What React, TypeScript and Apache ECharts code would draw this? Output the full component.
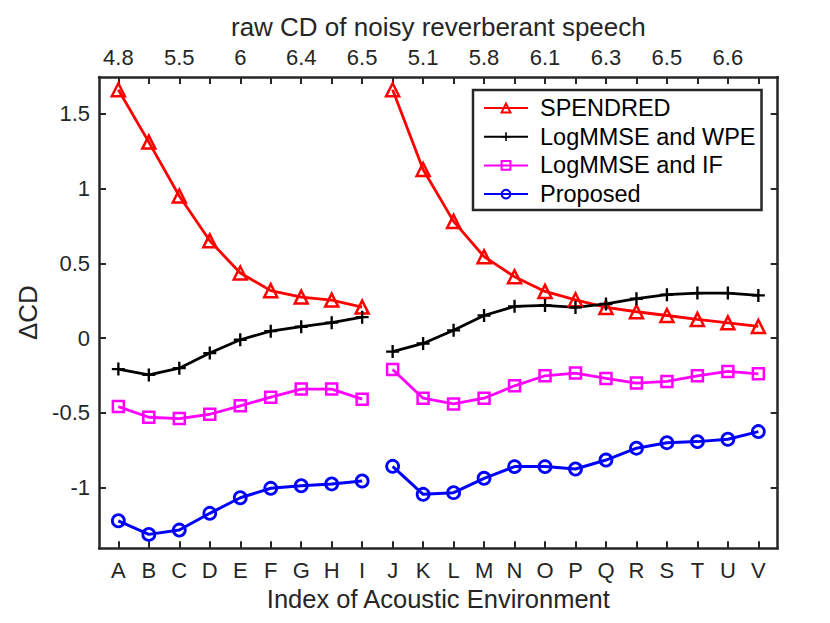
import React, { useEffect, useRef } from "react";
import * as echarts from "echarts";

const categories = ["A","B","C","D","E","F","G","H","I","J","K","L","M","N","O","P","Q","R","S","T","U","V"];
const breakAfter = 9; // line break between I and J
const topTickLabels = ["4.8","5.5","6","6.4","6.5","5.1","5.8","6.1","6.3","6.5","6.6"];
const topTickCategories = ["A","C","E","G","I","K","M","O","Q","S","U"];
const yTicks = [-1, -0.5, 0, 0.5, 1, 1.5];

const spendred = [1.66,1.31,0.95,0.65,0.435,0.317,0.274,0.254,0.207, 1.66,1.127,0.78,0.544,0.41,0.312,0.256,0.205,0.176,0.151,0.125,0.102,0.078];
const logmmseWpe = [-0.207,-0.246,-0.201,-0.1,-0.011,0.046,0.076,0.103,0.14, -0.09,-0.036,0.052,0.151,0.212,0.218,0.205,0.228,0.263,0.29,0.301,0.301,0.285];
const logmmseIf = [-0.458,-0.529,-0.538,-0.509,-0.453,-0.395,-0.341,-0.341,-0.408, -0.21,-0.402,-0.44,-0.402,-0.319,-0.252,-0.234,-0.27,-0.301,-0.29,-0.252,-0.223,-0.239];
const proposed = [-1.221,-1.312,-1.283,-1.171,-1.067,-1.004,-0.987,-0.975,-0.955, -0.857,-1.044,-1.033,-0.937,-0.859,-0.859,-0.875,-0.815,-0.736,-0.699,-0.692,-0.676,-0.625];

const TXT = "#262626";
const FONT = "'Liberation Sans', Arial, Helvetica, sans-serif";

function toData(vals: number[]) {
  const out: any[] = [];
  vals.forEach((v, i) => {
    out.push([i + 1, v]);
    if (i + 1 === breakAfter) out.push([breakAfter + 0.5, "-"]);
  });
  return out;
}

const plusPath = "path://M4.1,0h1.8v4.1h4.1v1.8h-4.1v4.1h-1.8v-4.1h-4.1v-1.8h4.1z";

export default function App() {
  const ref = useRef<HTMLDivElement>(null);
  useEffect(() => {
    if (!ref.current) return;
    const chart = echarts.init(ref.current, undefined, { renderer: "svg" });
    const xMin = 0.365, xMax = 22.635;
    const catTicks = categories.map((_, i) => i + 1);
    const topPos = topTickCategories.map((c) => categories.indexOf(c) + 1);
    const axisLineStyle = { color: TXT, width: 2.5 };
    const tickStyle = { color: TXT, width: 2 };
    const mk = (name: string, vals: number[], color: string, symbol: string, size: number, lw: number, bw: number, fillSolid = false) => ({
      name,
      type: "line",
      data: toData(vals),
      symbol,
      symbolSize: size,
      showSymbol: true,
      connectNulls: false,
      lineStyle: { color, width: lw },
      itemStyle: fillSolid ? { color, borderColor: color, borderWidth: 0 } : { color: "rgba(255,255,255,0)", borderColor: color, borderWidth: bw },
      emphasis: { disabled: true },
      z: 3,
    });
    chart.setOption({
      animation: false,
      textStyle: { fontFamily: FONT },
      grid: { left: 99, right: 52.3, top: 77, bottom: 74.7, containLabel: false },
      xAxis: [
        {
          type: "value", position: "bottom", min: xMin, max: xMax,
          name: "Index of Acoustic Environment", nameLocation: "middle", nameGap: 34,
          nameTextStyle: { fontSize: 25.5, color: TXT, fontFamily: FONT },
          axisLine: { show: true, onZero: false, lineStyle: axisLineStyle },
          axisTick: { show: true, inside: true, length: 7, lineStyle: tickStyle, customValues: catTicks },
          axisLabel: { show: true, fontSize: 22, color: TXT, margin: 11, fontFamily: FONT, customValues: catTicks, formatter: (v: number) => categories[Math.round(v) - 1] ?? "" },
          splitLine: { show: false },
        },
        {
          type: "value", position: "top", min: xMin, max: xMax,
          name: "raw CD of noisy reverberant speech", nameLocation: "middle", nameGap: 37,
          nameTextStyle: { fontSize: 26, color: TXT, fontFamily: FONT },
          axisLine: { show: true, onZero: false, lineStyle: axisLineStyle },
          axisTick: { show: true, inside: true, length: 7, lineStyle: tickStyle, customValues: catTicks },
          axisLabel: { show: true, fontSize: 22, color: TXT, margin: 9, fontFamily: FONT, customValues: topPos, formatter: (v: number) => { const k = topPos.indexOf(Math.round(v)); return k >= 0 ? topTickLabels[k] : ""; } },
          splitLine: { show: false },
        },
      ],
      yAxis: [
        {
          type: "value", position: "left", min: -1.405, max: 1.745,
          name: "ΔCD", nameLocation: "middle", nameGap: 53, nameRotate: 90,
          nameTextStyle: { fontSize: 26, color: TXT, fontFamily: FONT },
          axisLine: { show: true, onZero: false, lineStyle: axisLineStyle },
          axisTick: { show: true, inside: true, length: 7, lineStyle: tickStyle, customValues: yTicks },
          axisLabel: { show: true, fontSize: 22, color: TXT, margin: 9, fontFamily: FONT, customValues: yTicks, formatter: (v: number) => String(Math.round(v * 10) / 10) },
          splitLine: { show: false },
        },
        {
          type: "value", position: "right", min: -1.405, max: 1.745,
          axisLine: { show: true, onZero: false, lineStyle: axisLineStyle },
          axisTick: { show: true, inside: true, length: 7, lineStyle: tickStyle, customValues: yTicks },
          axisLabel: { show: false },
          splitLine: { show: false },
        },
      ],
      legend: {
        orient: "vertical", left: 473, top: 90,
        backgroundColor: "#fff", borderColor: TXT, borderWidth: 2.5, borderRadius: 0,
        padding: [6, 6, 4, 10],
        itemWidth: 44, itemHeight: 11, itemGap: 4.7,
        textStyle: { fontSize: 23.5, color: "#000", fontFamily: FONT, lineHeight: 24, padding: [0, 0, 0, 7] },
        data: ["SPENDRED", "LogMMSE and WPE", "LogMMSE and IF", "Proposed"],
      },
      series: [
        mk("SPENDRED", spendred, "#ff0000", "triangle", 13, 2.8, 2.5),
        mk("LogMMSE and WPE", logmmseWpe, "#000000", plusPath, 13, 2.8, 0, true),
        mk("LogMMSE and IF", logmmseIf, "#ff00ff", "rect", 11, 2.8, 2.5),
        mk("Proposed", proposed, "#0000ff", "circle", 12, 3, 2.8),
      ],
    });
    return () => chart.dispose();
  }, []);
  return <div ref={ref} style={{ position: "fixed", left: 0, top: 0, width: 830, height: 623, background: "#fff" }} />;
}
